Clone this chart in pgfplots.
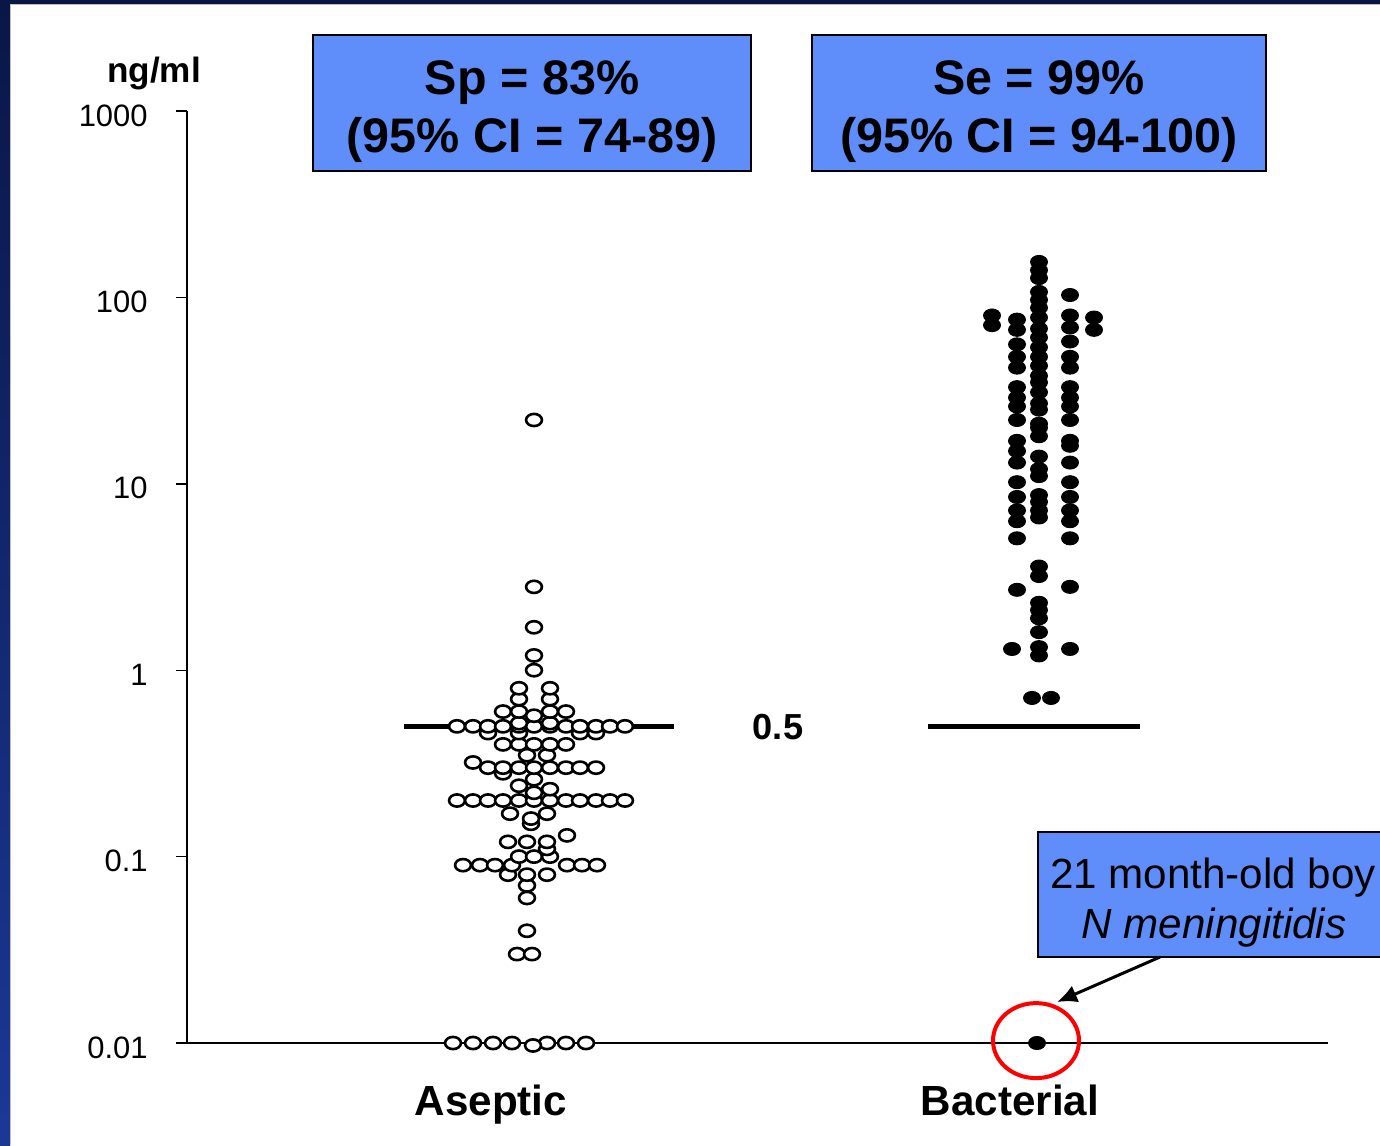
\documentclass[border=0pt]{standalone}
\usepackage{pgfplots}
\pgfplotsset{compat=1.18}
\usepackage{pgfplotstable}
\usepackage{fontspec}
\setmainfont{Liberation Sans}
\usetikzlibrary{arrows.meta}
\definecolor{boxblue}{RGB}{95,142,250}
\definecolor{navy}{RGB}{10,22,70}
\definecolor{slideblue}{RGB}{28,56,150}

% Aseptic: horizontal position (px-like units), concentration (ng/ml)
\pgfplotstableread{
x y
453 0.01
473 0.01
493 0.01
512 0.01
547 0.01
566 0.01
586 0.01
533 0.0097
517 0.03
532 0.03
527 0.04
527 0.06
527 0.07
508 0.08
527 0.08
547 0.08
463 0.09
480 0.09
495 0.09
512 0.09
567 0.09
582 0.09
597 0.09
519 0.1
534 0.1
550 0.1
547 0.11
508 0.12
527 0.12
547 0.12
567 0.13
531 0.15
531 0.16
510 0.17
547 0.17
457 0.2
473 0.2
488 0.2
503 0.2
519 0.2
534 0.2
550 0.2
566 0.2
580 0.2
596 0.2
610 0.2
625 0.2
534 0.22
550 0.23
519 0.24
534 0.26
503 0.28
488 0.3
503 0.3
519 0.3
534 0.3
550 0.3
566 0.3
580 0.3
596 0.3
473 0.32
527 0.35
547 0.35
503 0.4
519 0.4
534 0.4
550 0.4
566 0.4
488 0.46
519 0.46
580 0.46
596 0.46
457 0.5
473 0.5
488 0.5
503 0.5
519 0.5
534 0.5
550 0.5
566 0.5
580 0.5
596 0.5
610 0.5
625 0.5
519 0.52
550 0.52
534 0.57
503 0.6
519 0.6
550 0.6
566 0.6
519 0.7
550 0.7
519 0.8
550 0.8
534 1.0
534 1.2
534 1.7
534 2.8
534 22
}\aseptic

% Bacterial
\pgfplotstableread{
x y
992 80
992 71
1094 78
1094 67
1017 76
1017 67
1017 56
1017 48
1017 42
1017 33
1017 29
1017 26
1017 22
1017 17
1017 15
1017 13
1017 10.2
1017 8.5
1017 7.2
1017 6.3
1017 5.1
1017 2.7
1012 1.3
1070 103
1070 80
1070 69
1070 58
1070 48
1070 42
1070 33
1070 29
1070 26
1070 22
1070 17
1070 16
1070 13
1070 10.2
1070 8.5
1070 7.2
1070 6.3
1070 5.1
1070 2.8
1070 1.3
1039 155
1039 140
1039 127
1039 107
1039 97
1039 88
1039 78
1039 68
1039 61
1039 54
1039 48
1039 43
1039 38
1039 35
1039 31
1039 27
1039 25
1039 21
1039 20
1039 18
1039 14
1039 12
1039 11.0
1039 8.7
1039 8.0
1039 7.2
1039 6.6
1039 3.6
1039 3.2
1039 2.3
1039 2.1
1039 1.9
1039 1.6
1039 1.33
1039 1.2
1032 0.71
1051 0.71
1037 0.01
}\bacterial

\begin{document}
\begin{tikzpicture}
% slide background
\fill[white] (0,0) rectangle (138mm,114.5mm);
\shade[top color=navy, bottom color=slideblue] (0,0) rectangle (1mm,114.5mm);
\fill[navy] (0,114.1mm) rectangle (138mm,114.5mm);
\draw[gray!50, line width=0.15mm] (1.07mm,0) -- (1.07mm,114.03mm) -- (138mm,114.03mm);

\begin{axis}[
  at={(18.7mm,10.2mm)}, anchor=south west,
  scale only axis, width=114.1mm, height=93.2mm,
  xmin=187, xmax=1328,
  ymode=log, ymin=0.01, ymax=1000,
  clip=false,
  axis lines*=left,
  axis line style={black, line width=0.4pt},
  tick style={black, line width=0.4pt},
  major tick length=1.1mm,
  tick align=outside,
  yminorticks=false,
  ytick={0.01,0.1,1,10,100,1000},
  yticklabels={0.01,0.1,1,10,100,1000},
  yticklabel style={font=\fontsize{8.8}{10}\selectfont, xshift=-1.6mm, yshift=-0.45mm},
  xtick=\empty,
  extra x ticks={491,1010},
  extra x tick labels={Aseptic,Bacterial},
  extra x tick style={tick style={draw=none}, major tick length=0pt,
    xticklabel style={font=\fontsize{12}{14}\selectfont\bfseries, anchor=base, yshift=-7.2mm}},
  ylabel={ng/ml},
  every axis y label/.style={at={(rel axis cs:0,1)}, anchor=base, xshift=-3.3mm, yshift=2.9mm, font=\fontsize{10}{12}\selectfont\bfseries},
]
\addplot[only marks, mark=*, mark size=0.61mm,
  mark options={xscale=1.3, fill=white, draw=black, line width=0.26mm}] table {\aseptic};
\addplot[only marks, mark=*, mark size=0.65mm,
  mark options={xscale=1.3, fill=black, draw=black, line width=0.1mm}] table {\bacterial};
\addplot[black, line width=0.45mm] coordinates {(404,0.5) (674,0.5)};
\addplot[black, line width=0.45mm] coordinates {(928,0.5) (1140,0.5)};
\draw[red, line width=0.4mm] (axis cs:1036,0.0103) ellipse [x radius=4.3mm, y radius=3.75mm];
\end{axis}

\begin{scope}[yshift=114.5mm, x=0.1mm, y=-0.1mm]
  % Sp box
  \draw[fill=boxblue, line width=0.2mm] (313,35) rectangle (751,171);
  \node[anchor=base, inner sep=0, font=\fontsize{13.8}{16}\selectfont\bfseries] at (532,95) {Sp = 83\%};
  \node[anchor=base, inner sep=0, font=\fontsize{13.8}{16}\selectfont\bfseries] at (532,152) {(95\% CI = 74-89)};
  % Se box
  \draw[fill=boxblue, line width=0.2mm] (812,35) rectangle (1266,171);
  \node[anchor=base, inner sep=0, font=\fontsize{13.8}{16}\selectfont\bfseries] at (1039,95) {Se = 99\%};
  \node[anchor=base, inner sep=0, font=\fontsize{13.8}{16}\selectfont\bfseries] at (1039,152) {(95\% CI = 94-100)};
  % threshold label
  \node[anchor=base, inner sep=0, font=\fontsize{10.3}{12}\selectfont\bfseries] at (778,739) {0.5};
  % callout
  \draw[fill=boxblue, line width=0.2mm] (1038,832) rectangle (1392,957);
  \node[anchor=base, inner sep=0, font=\fontsize{12}{14}\selectfont] at (1213,888) {21 month-old boy};
  \node[anchor=base, inner sep=0, font=\fontsize{12}{14}\selectfont\itshape] at (1214,938) {N meningitidis};
  \draw[line width=0.3mm, -{Latex[length=2mm, width=1.8mm]}] (1160,957) -- (1057,1002);
\end{scope}

\pgfresetboundingbox
\useasboundingbox (0,0) rectangle (138mm,114.5mm);
\end{tikzpicture}
\end{document}
